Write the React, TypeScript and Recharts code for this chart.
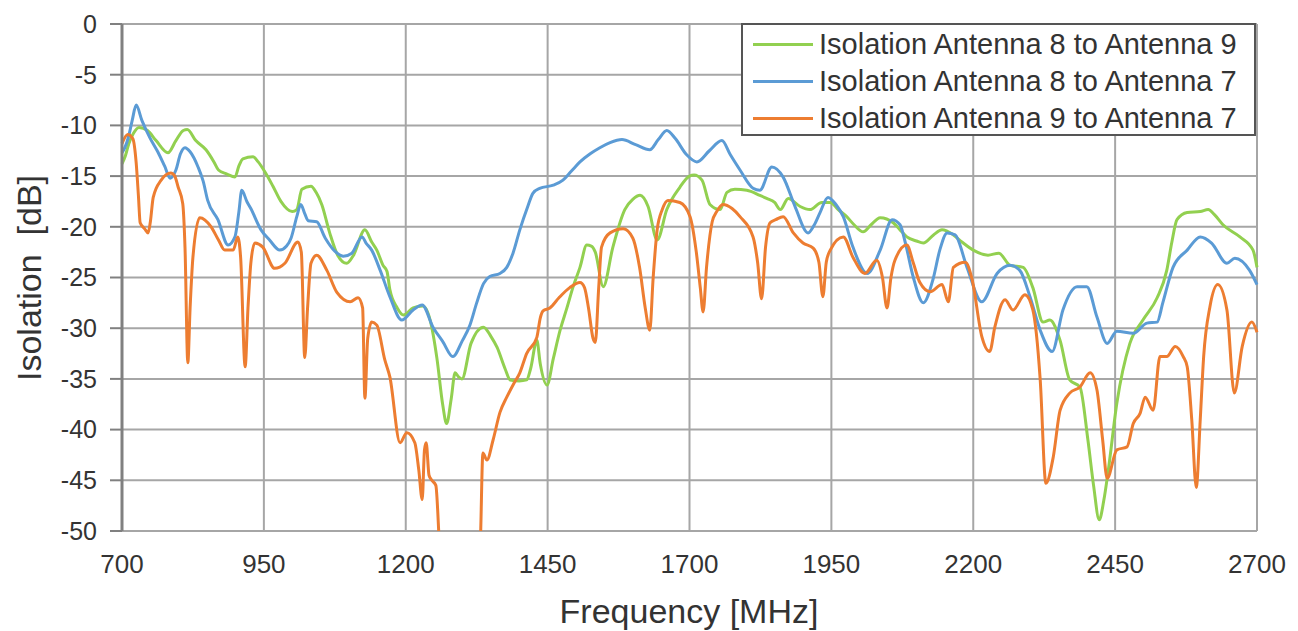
import React from 'react';
import { LineChart, Line, XAxis, YAxis, CartesianGrid, Legend } from 'recharts';

const xTicks = [700, 950, 1200, 1450, 1700, 1950, 2200, 2450, 2700];
const yTicks = [0, -5, -10, -15, -20, -25, -30, -35, -40, -45, -50];

const seriesNames = [
  'Isolation Antenna 8 to Antenna 9',
  'Isolation Antenna 8 to Antenna 7',
  'Isolation Antenna 9 to Antenna 7',
];
const seriesColors = ['#92D050', '#5B9BD5', '#ED7D31'];

// Isolation Antenna 8 to Antenna 9
const greenFreq = [700, 706, 712, 720, 730, 745, 760, 781, 795, 808, 815, 830, 848, 862, 870, 885, 899, 906, 913, 931, 940, 952, 966, 980, 1000, 1008, 1017, 1033, 1042, 1052, 1066, 1080, 1096, 1108, 1128, 1140, 1149, 1160, 1167, 1172, 1185, 1196, 1213, 1230, 1243, 1255, 1265, 1272, 1280, 1287, 1293, 1299, 1315, 1337, 1350, 1361, 1375, 1384, 1400, 1413, 1420, 1431, 1437, 1449, 1460, 1472, 1484, 1495, 1507, 1519, 1527, 1534, 1548, 1565, 1586, 1600, 1613, 1627, 1643, 1660, 1683, 1700, 1708, 1722, 1736, 1754, 1766, 1780, 1801, 1824, 1836, 1850, 1860, 1874, 1895, 1912, 1933, 1948, 1962, 1977, 1990, 2006, 2020, 2036, 2059, 2071, 2083, 2100, 2112, 2130, 2145, 2165, 2180, 2200, 2226, 2245, 2265, 2288, 2305, 2323, 2335, 2353, 2370, 2388, 2402, 2412, 2422, 2430, 2438, 2453, 2476, 2499, 2524, 2541, 2550, 2559, 2577, 2600, 2614, 2625, 2640, 2670, 2693, 2700];
const greenDb = [-13.8, -13.0, -11.8, -10.8, -10.2, -10.5, -11.5, -12.7, -11.5, -10.5, -10.4, -11.5, -12.4, -13.6, -14.4, -14.8, -15.1, -14.0, -13.3, -13.1, -13.6, -14.6, -16.0, -17.5, -18.5, -18.3, -16.3, -16.0, -16.6, -17.8, -20.6, -22.8, -23.6, -22.8, -20.3, -21.5, -22.3, -23.8, -24.4, -26.2, -28.0, -28.7, -28.0, -27.8, -29.2, -33.0, -37.5, -39.4, -37.0, -34.4, -34.8, -35.0, -31.5, -29.9, -30.8, -31.9, -34.0, -35.1, -35.2, -35.1, -34.0, -31.2, -33.5, -35.6, -33.0, -30.2, -28.0, -25.9, -24.0, -21.8, -21.9, -22.5, -25.9, -22.0, -18.3, -17.3, -16.9, -18.0, -21.3, -18.3, -16.1, -15.0, -14.9, -15.4, -17.8, -18.3, -16.6, -16.3, -16.4, -16.9, -17.2, -17.6, -18.3, -17.2, -18.0, -18.3, -17.6, -17.6, -18.3, -19.0, -19.8, -20.5, -19.8, -19.1, -19.6, -20.3, -21.0, -21.4, -21.6, -20.8, -20.3, -20.8, -21.5, -22.3, -22.8, -22.6, -23.8, -24.0, -26.0, -29.4, -29.2, -31.2, -35.1, -35.8, -41.0, -45.5, -48.9, -47.0, -44.0, -37.4, -31.5, -29.2, -27.0, -24.3, -21.5, -19.3, -18.6, -18.5, -18.3, -18.8, -19.8, -21.0, -22.3, -24.0];

// Isolation Antenna 8 to Antenna 7
const blueFreq = [700, 705, 712, 718, 725, 735, 749, 763, 775, 785, 795, 803, 811, 820, 834, 843, 851, 869, 887, 899, 906, 911, 920, 927, 945, 960, 978, 990, 998, 1008, 1015, 1022, 1028, 1043, 1058, 1075, 1090, 1105, 1123, 1130, 1140, 1155, 1172, 1193, 1213, 1229, 1248, 1265, 1283, 1300, 1313, 1325, 1337, 1348, 1366, 1378, 1389, 1401, 1415, 1424, 1436, 1460, 1477, 1492, 1507, 1525, 1542, 1560, 1581, 1605, 1630, 1645, 1660, 1675, 1695, 1713, 1735, 1757, 1772, 1789, 1812, 1824, 1845, 1865, 1886, 1909, 1920, 1930, 1944, 1958, 1971, 1988, 2013, 2036, 2057, 2071, 2080, 2094, 2112, 2129, 2141, 2154, 2168, 2189, 2215, 2242, 2265, 2282, 2300, 2318, 2339, 2358, 2383, 2400, 2418, 2436, 2453, 2482, 2506, 2524, 2534, 2552, 2577, 2600, 2620, 2647, 2661, 2687, 2700];
const blueDb = [-12.7, -12.2, -11.0, -9.5, -8.0, -9.5, -11.2, -12.6, -14.0, -15.2, -14.4, -12.8, -12.2, -12.6, -14.1, -15.5, -17.4, -19.3, -21.8, -21.0, -18.5, -16.4, -17.5, -18.2, -20.3, -21.3, -22.3, -21.9, -21.1, -19.0, -17.8, -18.7, -19.4, -19.5, -21.1, -22.4, -22.9, -22.6, -21.0, -21.6, -22.3, -24.3, -26.9, -29.2, -28.2, -27.7, -29.9, -31.3, -32.8, -31.2, -29.7, -27.5, -25.6, -24.9, -24.6, -24.0, -22.6, -20.3, -18.0, -16.7, -16.2, -15.9, -15.4, -14.5, -13.6, -12.8, -12.2, -11.7, -11.4, -11.9, -12.4, -11.4, -10.5, -11.3, -12.9, -13.6, -12.5, -11.5, -12.9, -14.4, -16.2, -16.4, -14.1, -15.1, -18.0, -20.6, -19.8, -18.6, -17.1, -17.8, -19.0, -22.0, -24.6, -22.3, -19.3, -19.8, -21.5, -24.9, -27.5, -25.2, -22.3, -20.6, -20.8, -24.0, -27.4, -24.6, -23.8, -24.3, -26.9, -30.2, -32.3, -28.2, -25.9, -25.9, -28.9, -31.5, -30.3, -30.5, -29.5, -29.4, -27.5, -24.0, -22.3, -21.0, -21.6, -23.6, -23.1, -24.3, -25.7];

// Isolation Antenna 9 to Antenna 7
const orangeFreq = [700, 710, 719, 725, 729, 732, 740, 746, 750, 755, 769, 786, 793, 799, 807, 811, 816, 820, 825, 837, 857, 870, 881, 896, 904, 909, 917, 922, 927, 934, 948, 969, 987, 1010, 1016, 1022, 1027, 1033, 1043, 1061, 1079, 1102, 1116, 1124, 1128, 1133, 1140, 1149, 1163, 1172, 1190, 1202, 1216, 1223, 1229, 1233, 1236, 1241, 1246, 1253, 1260, 1270, 1320, 1331, 1336, 1343, 1354, 1366, 1378, 1390, 1401, 1413, 1431, 1437, 1442, 1454, 1470, 1489, 1507, 1515, 1522, 1530, 1534, 1540, 1545, 1560, 1583, 1600, 1612, 1622, 1630, 1636, 1643, 1652, 1662, 1683, 1701, 1712, 1719, 1724, 1730, 1740, 1748, 1759, 1775, 1789, 1812, 1820, 1827, 1834, 1842, 1852, 1865, 1883, 1900, 1918, 1928, 1935, 1941, 1948, 1971, 1988, 2009, 2030, 2040, 2048, 2055, 2062, 2083, 2094, 2106, 2124, 2145, 2156, 2165, 2186, 2198, 2215, 2229, 2238, 2256, 2270, 2291, 2305, 2318, 2328, 2341, 2353, 2370, 2388, 2406, 2418, 2428, 2436, 2453, 2471, 2482, 2494, 2503, 2517, 2529, 2541, 2556, 2570, 2577, 2585, 2593, 2600, 2606, 2617, 2631, 2647, 2660, 2674, 2691, 2700];
const orangeDb = [-11.8, -10.9, -11.3, -13.7, -17.0, -19.6, -20.2, -20.6, -19.5, -17.1, -15.4, -14.7, -15.0, -16.1, -17.7, -22.0, -33.4, -28.0, -23.0, -19.1, -20.0, -21.3, -22.3, -22.3, -21.0, -23.0, -33.8, -28.0, -23.6, -21.6, -22.0, -24.1, -23.6, -21.5, -22.5, -32.9, -28.0, -23.6, -22.8, -24.3, -26.5, -27.4, -27.0, -28.0, -36.9, -31.0, -29.4, -29.7, -33.1, -34.8, -41.3, -40.3, -41.3, -44.0, -46.9, -42.0, -41.3, -44.5, -45.0, -45.5, -52.0, -58.0, -58.0, -52.0, -42.3, -43.0, -41.0, -38.3, -36.8, -35.5, -34.4, -32.5, -30.9, -29.0, -28.3, -28.0, -27.0, -26.0, -25.5, -26.0, -28.0, -31.0, -31.4, -26.0, -22.0, -20.6, -20.2, -21.1, -24.0, -28.0, -30.2, -25.0, -20.3, -18.3, -17.4, -17.6, -19.0, -22.5, -26.0, -28.4, -24.0, -19.5, -18.5, -17.8, -18.2, -19.0, -21.0, -23.5, -27.1, -22.0, -19.6, -19.3, -19.0, -20.6, -21.6, -22.1, -23.5, -26.9, -23.5, -22.3, -21.0, -23.0, -24.6, -23.3, -25.0, -28.0, -25.0, -23.3, -21.8, -23.5, -25.5, -26.4, -25.7, -27.4, -24.0, -23.5, -25.2, -30.8, -32.3, -29.9, -27.2, -28.2, -26.7, -28.2, -35.1, -45.3, -42.7, -38.1, -36.4, -35.8, -34.4, -36.1, -41.0, -44.8, -42.0, -41.7, -39.4, -38.4, -36.8, -38.1, -32.8, -32.8, -31.8, -32.8, -33.8, -39.0, -45.7, -39.0, -32.8, -27.9, -25.7, -28.2, -36.4, -31.8, -29.4, -30.4];

const toPoints = (freq: number[], db: number[]) => freq.map((f, i) => ({ f, db: db[i] }));

const seriesData = [
  toPoints(greenFreq, greenDb),
  toPoints(blueFreq, blueDb),
  toPoints(orangeFreq, orangeDb),
];

const FONT = '"Liberation Sans", Arial, sans-serif';
const TEXT = '#333333';

const LegendBox = () => (
  <div
    style={{
      width: 515,
      height: 113,
      boxSizing: 'border-box',
      border: '2px solid #555555',
      background: '#ffffff',
      paddingTop: 1,
      fontFamily: FONT,
    }}
  >
    {seriesNames.map((name, i) => (
      <div key={name} style={{ display: 'flex', alignItems: 'center', height: 37 }}>
        <div style={{ width: 60, height: 3, background: seriesColors[i], marginLeft: 10, marginRight: 6 }} />
        <span style={{ fontSize: 29, color: TEXT, whiteSpace: 'nowrap', lineHeight: '37px' }}>{name}</span>
      </div>
    ))}
  </div>
);

export default function App() {
  return (
    <div style={{ position: 'absolute', left: 0, top: 0, background: '#ffffff' }}>
      <LineChart width={1298} height={631} margin={{ top: 24, right: 41, bottom: 0, left: 0 }}>
        <CartesianGrid stroke="#a6a6a6" strokeWidth={2} />
        <XAxis
          type="number"
          dataKey="f"
          domain={[700, 2700]}
          ticks={xTicks}
          interval={0}
          height={100}
          axisLine={false}
          tickLine={false}
          tickSize={0}
          tickMargin={24}
          tick={{ fontSize: 26, fill: TEXT, fontFamily: FONT }}
          label={{
            content: () => (
              <text x={689} y={623} textAnchor="middle" fontSize={34} fill={TEXT} fontFamily={FONT}>
                Frequency [MHz]
              </text>
            ),
          }}
        />
        <YAxis
          type="number"
          domain={[-50, 0]}
          ticks={yTicks}
          interval={0}
          allowDataOverflow
          width={122}
          axisLine={{ stroke: '#808080', strokeWidth: 3 }}
          tickLine={{ stroke: '#808080', strokeWidth: 2 }}
          tickSize={12}
          tickMargin={13}
          tick={{ fontSize: 25, fill: TEXT, fontFamily: FONT }}
          label={{
            content: () => (
              <text
                x={29}
                y={278}
                transform="rotate(-90 29 278)"
                textAnchor="middle"
                dominantBaseline="central"
                fontSize={34}
                fill={TEXT}
                fontFamily={FONT}
                style={{ whiteSpace: 'pre' }}
              >
                {'Isolation  [dB]'}
              </text>
            ),
          }}
        />
        <Legend
          layout="vertical"
          verticalAlign="middle"
          align="center"
          wrapperStyle={{ top: 23, left: 741, width: 515 }}
          content={() => <LegendBox />}
        />
        {seriesData.map((d, i) => (
          <Line
            key={seriesNames[i]}
            data={d}
            dataKey="db"
            name={seriesNames[i]}
            type="monotone"
            stroke={seriesColors[i]}
            strokeWidth={3}
            dot={false}
            activeDot={false}
            isAnimationActive={false}
          />
        ))}
      </LineChart>
    </div>
  );
}
